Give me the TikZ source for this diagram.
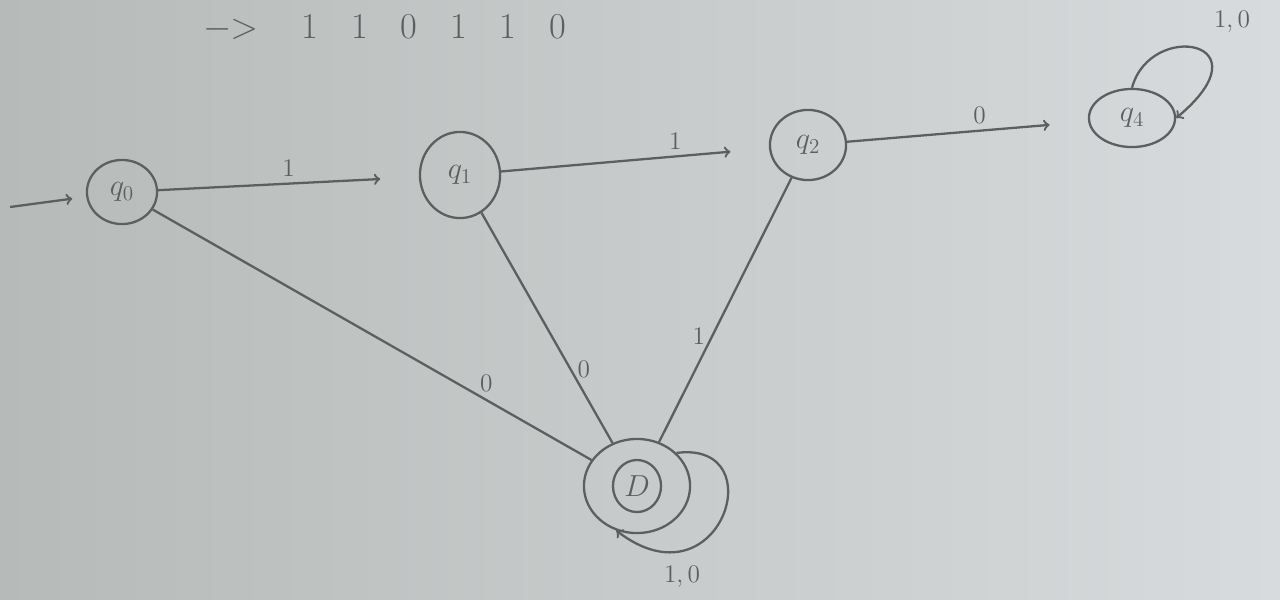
\documentclass[tikz,border=0pt]{standalone}
\usepackage{tikz}
\usetikzlibrary{shapes,arrows,positioning}
\definecolor{pencil}{RGB}{92,95,95}
\definecolor{paperl}{RGB}{182,186,184}
\definecolor{paperr}{RGB}{216,219,221}
\tikzstyle{state} = [ellipse, draw=pencil, line width=1.3pt, text=pencil, inner sep=0pt, font=\LARGE]
\tikzstyle{line} = [draw=pencil, line width=1.3pt]
\tikzstyle{arr} = [line, ->, >=to, shorten >=22pt]
\tikzstyle{lbl} = [text=pencil, font=\Large]

\begin{document}
\begin{tikzpicture}[x=0.02cm, y=-0.02cm]
			\shade [left color=paperl, right color=paperr] (0,0) rectangle (1280,599);
			\useasboundingbox (0,0) rectangle (1280,599);
			
			\node [lbl, font=\huge] (word) at (385,28) {$-\!\!>$\hspace{1.2em}1\hspace{0.9em}1\hspace{0.9em}0\hspace{0.9em}1\hspace{0.9em}1\hspace{0.9em}0};
			
			\node [state, minimum width=70pt*0.57, minimum height=64pt*0.57] (q0) at (122,192) {$q_0$};
			\node [state, minimum width=80pt*0.57, minimum height=86pt*0.57] (q1) at (460,175) {$q_1$};
			\node [state, minimum width=76pt*0.57, minimum height=70pt*0.57] (q2) at (808,145) {$q_2$};
			\node [state, minimum width=86pt*0.57, minimum height=58pt*0.57] (q4) at (1132,118) {$q_4$};
			\node [state, minimum width=106pt*0.57, minimum height=94pt*0.57] (D) at (637,486) {};
			\node [state, minimum width=48pt*0.57, minimum height=52pt*0.57] (Dcore) at (D) {$D$};
			\coordinate (start) at (10,207);
			
			\path [line, ->, >=to, shorten >=8pt] (start) -- (q0);
			\path [arr] (q0) -- node [lbl, above] {1} (q1);
			\path [arr] (q1) -- node [lbl, above, pos=0.65] {1} (q2);
			\path [arr] (q2) -- node [lbl, above, pos=0.55] {0} (q4);
			\path [line, ->, >=to] (q4.north) .. controls (1150,20) and (1270,40) .. (q4.east);
			\node [lbl] (q4loop) at (1232,22) {1,\,0};
			
			\path [line] (q0) -- node [lbl, above right, pos=0.74, inner sep=1pt] {0} (D);
			\path [line] (q1) -- node [lbl, right, pos=0.68] {0} (D);
			\path [line] (q2) -- node [lbl, left, pos=0.6] {1} (D);
			\path [line, ->, >=to] (D.40) .. controls (775,440) and (720,610) .. (D.245);
			\node [lbl] (Dloop) at (682,577) {1,\,0};
		\end{tikzpicture}
\end{document}
